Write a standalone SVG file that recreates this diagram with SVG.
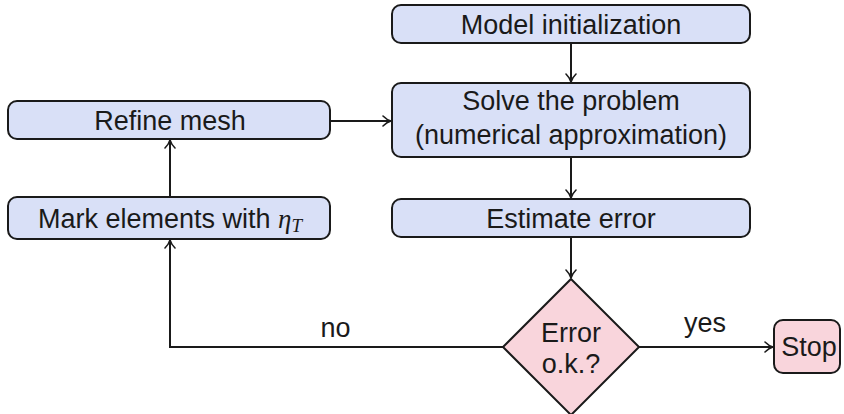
<svg xmlns="http://www.w3.org/2000/svg" width="844" height="414" viewBox="0 0 844 414">
  <style>
    .blk { fill: #d9e0f7; stroke: #1a1a1a; stroke-width: 2; }
    .dec { fill: #f9d5dc; stroke: #1a1a1a; stroke-width: 2; }
    .txt { font-family: "Liberation Sans", Arial, sans-serif; font-size: 27px; fill: #1a1a1a; text-anchor: middle; }
    .math { font-family: "Liberation Serif", "Times New Roman", serif; font-style: italic; }
    .edge { fill: none; stroke: #1a1a1a; stroke-width: 2; marker-end: url(#arr); }
  </style>
  <defs>
    <marker id="arr" viewBox="0 0 10 12" refX="9" refY="6" markerWidth="10" markerHeight="12" markerUnits="userSpaceOnUse" orient="auto">
      <path d="M1,1 Q5,5 9,6 Q5,7 1,11" fill="none" stroke="#1a1a1a" stroke-width="1.6" stroke-linecap="round"/>
    </marker>
  </defs>
  <rect width="844" height="414" fill="#ffffff"/>

  <g id="connectors">
    <path class="edge" d="M571,43 V82"/>
    <path class="edge" d="M571,157 V198"/>
    <path class="edge" d="M571,237 V278"/>
    <path class="edge" d="M330,121 H391"/>
    <path class="edge" d="M170,197 V140"/>
    <path class="edge" d="M503,347 H170 V240"/>
    <path class="edge" d="M639,347 H773"/>
    <text class="txt" x="335.5" y="337">no</text>
    <text class="txt" x="705" y="332">yes</text>
  </g>

  <g id="init">
    <rect class="blk" x="392" y="5" width="358" height="38" rx="9"/>
    <text class="txt" x="571" y="33.5">Model initialization</text>
  </g>

  <g id="solve">
    <rect class="blk" x="392" y="83" width="358" height="74" rx="9"/>
    <text class="txt" x="571" y="110">Solve the problem</text>
    <text class="txt" x="571" y="143.5">(numerical approximation)</text>
  </g>

  <g id="estimate">
    <rect class="blk" x="392" y="199" width="358" height="38" rx="9"/>
    <text class="txt" x="571" y="227.5">Estimate error</text>
  </g>

  <g id="refine">
    <rect class="blk" x="8" y="101" width="322" height="38" rx="9"/>
    <text class="txt" x="170" y="129.5">Refine mesh</text>
  </g>

  <g id="mark">
    <rect class="blk" x="8" y="197" width="322" height="42" rx="9"/>
    <text class="txt" x="170" y="227.5">Mark elements with <tspan class="math">η</tspan><tspan class="math" font-size="19px" dy="4">T</tspan></text>
  </g>

  <g id="check">
    <polygon class="dec" points="571,279 639,347 571,415 503,347"/>
    <text class="txt" x="571" y="342">Error</text>
    <text class="txt" x="571" y="373">o.k.?</text>
  </g>

  <g id="stop">
    <rect class="dec" x="774" y="320" width="66" height="53" rx="9"/>
    <text class="txt" x="809" y="356">Stop</text>
  </g>
</svg>
